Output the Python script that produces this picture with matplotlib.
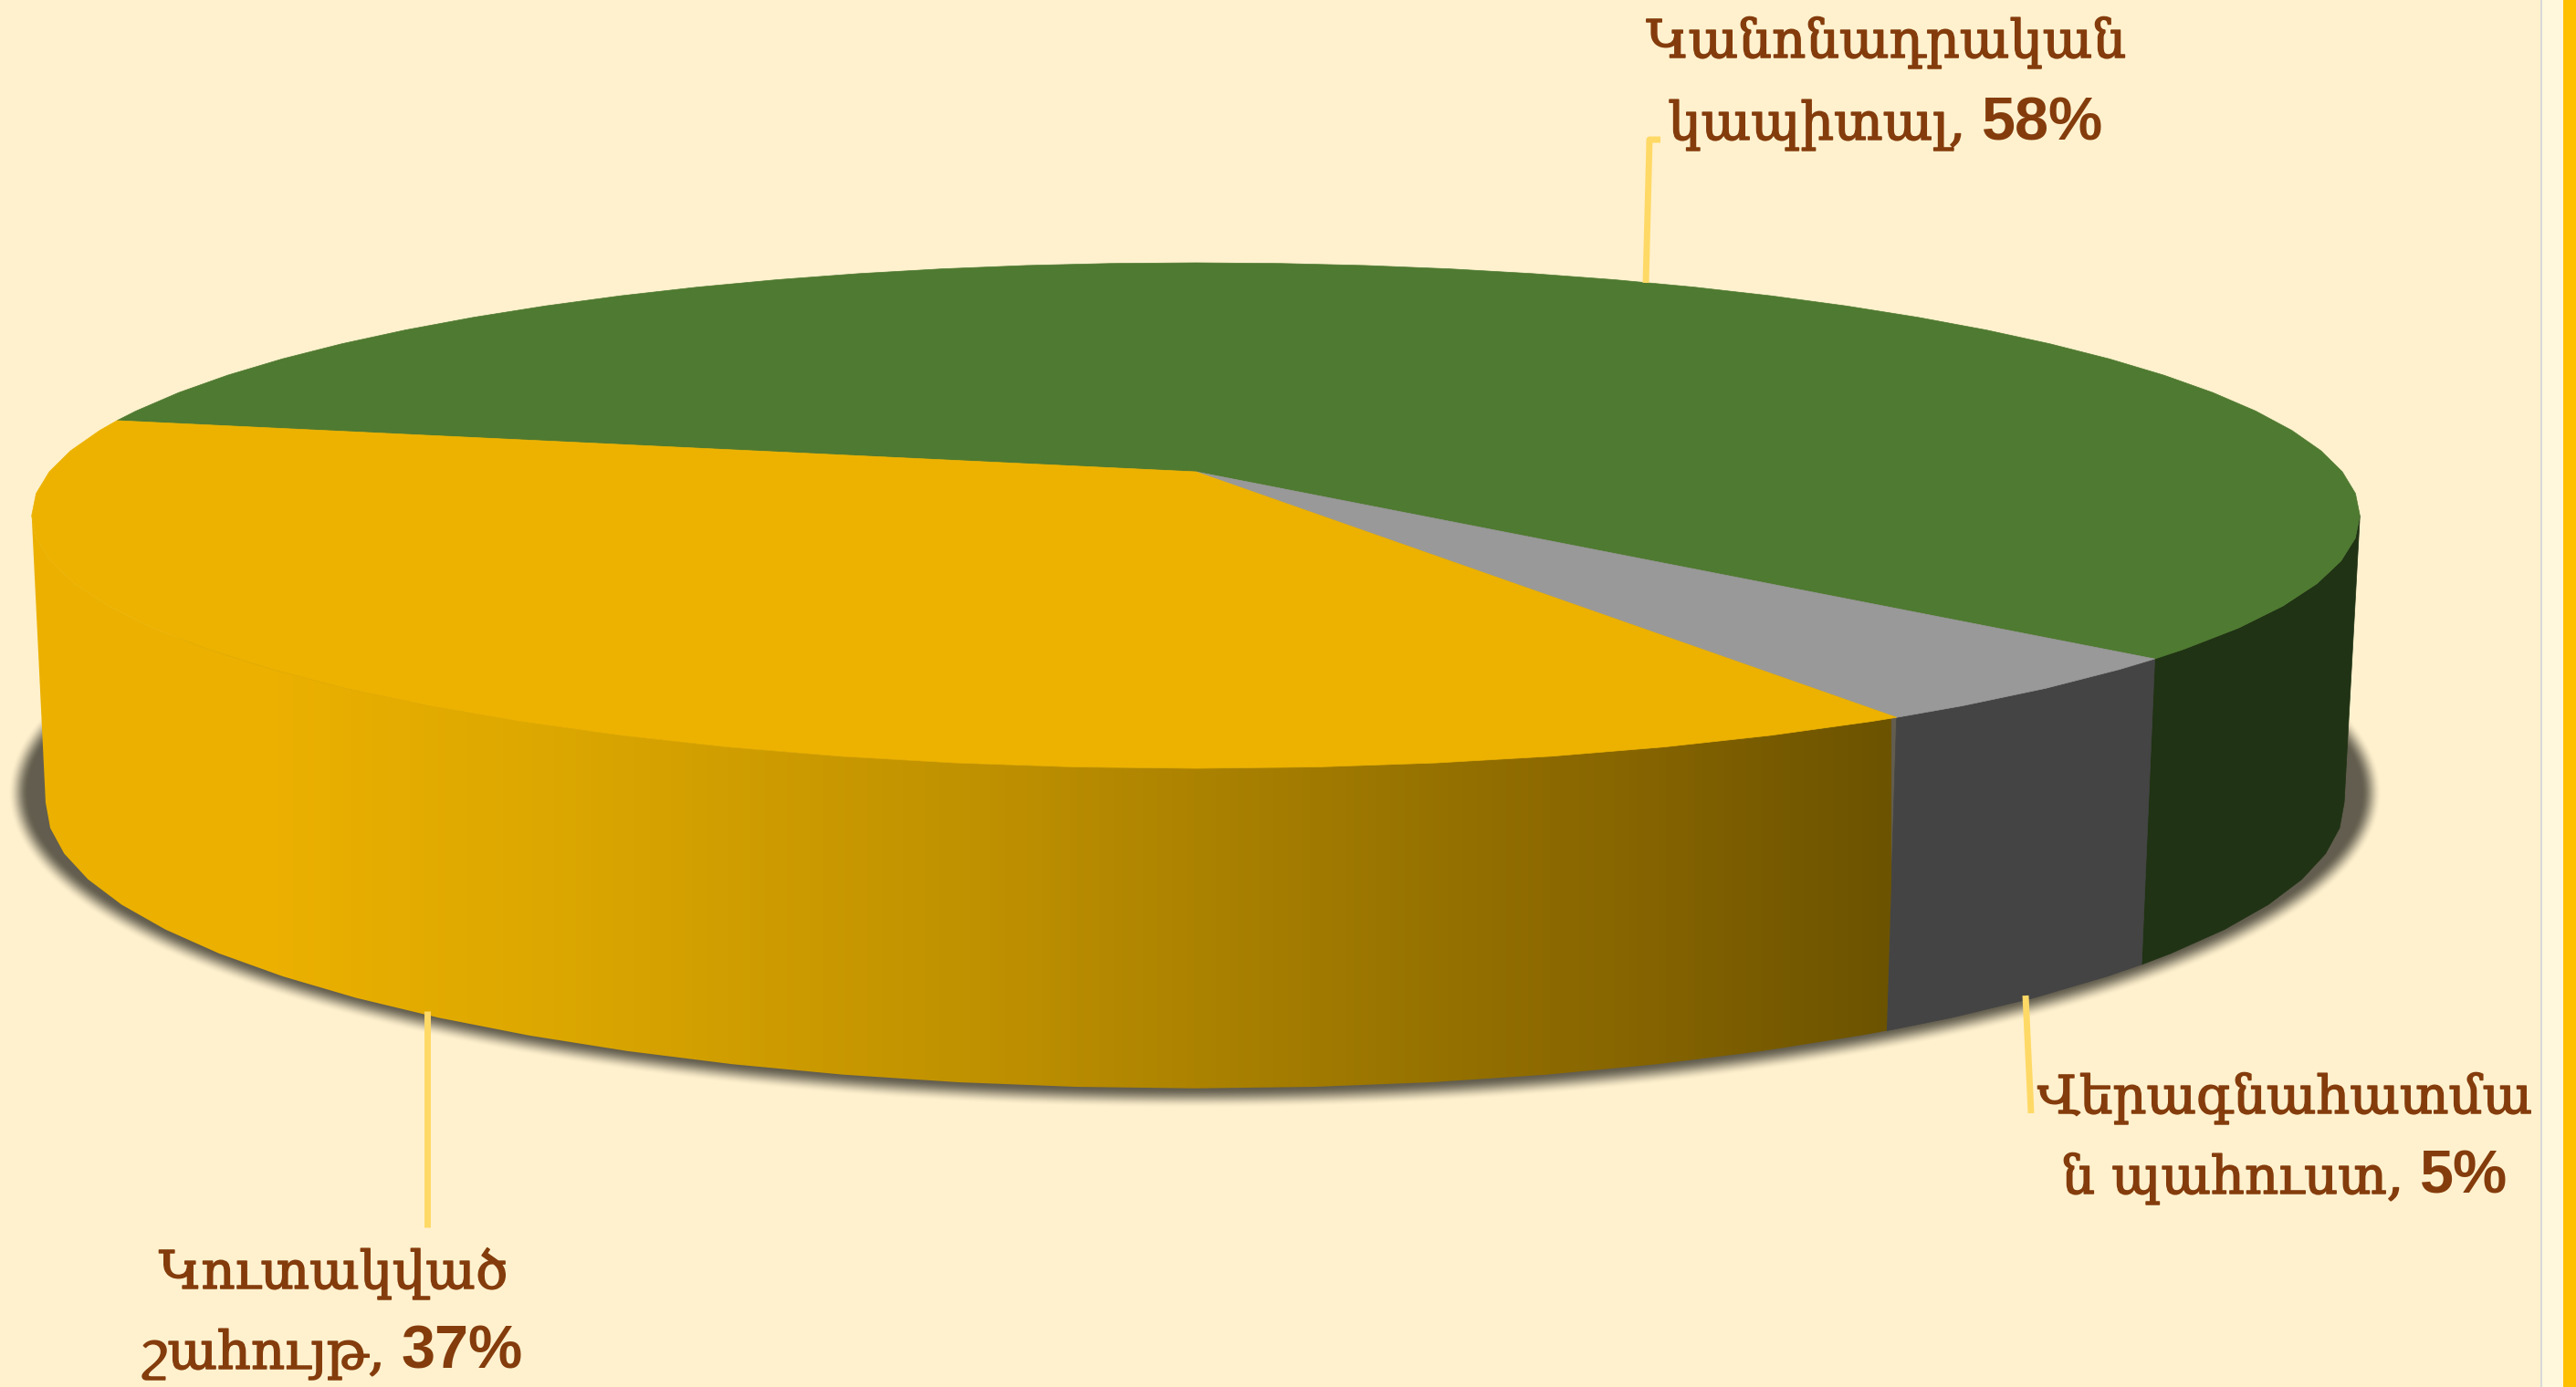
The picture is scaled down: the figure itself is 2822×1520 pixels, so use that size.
import numpy as np
import matplotlib
matplotlib.use('Agg')
import matplotlib.pyplot as plt
import matplotlib.patheffects as pe
from matplotlib.colors import LinearSegmentedColormap
from matplotlib.patches import Polygon

# data
labels = [['Կանոնադրական', 'կապիտալ, '], ['Վերագնահատմա', 'ն պահուստ, '], ['Կուտակված', 'շահույթ, ']]
shares = [58.3, 4.51, 37.19]
top_colors = ['#4f7a31', '#999999', '#edb200']
side_colors = ['#203314', '#444444', None]
start_angle = 192.5

# label centre x and the two baselines, in picture pixels
label_pos = [(2066, 63, 153), (2503, 1220, 1308), (365, 1412, 1500)]
leaders = [
    [(1803, 310), (1807, 153), (1819, 153)],
    [(2219, 1091), (2225, 1220)],
    [(468, 1108), (468, 1345)],
]

W, H = 2822, 1520
BG = '#fff1ce'
TEXT = '#843c0c'
FS = 41.5
FS_NUM = 48
HEAVY = [pe.withStroke(linewidth=1.1, foreground=TEXT)]
WALL_STOPS = [(0, '#ecb100'), (0.13, '#ebb000'), (0.27, '#dda800'), (0.53, '#bd8f00'),
              (0.73, '#9a7500'), (0.86, '#876500'), (1, '#6c5300')]


def rim(phi, cx, cy, a, b, k):
    # circle seen in perspective, phi runs clockwise on the screen
    t = np.radians(phi)
    d = 1 - k * np.sin(t)
    return np.column_stack([cx + a * np.cos(t) / d, cy + b * np.sin(t) / d])


def top_rim(phi):
    return rim(phi, 1310, 517, 1256, 268.7, 0.1733)


def bottom_rim(phi):
    return rim(phi, 1309, 825, 1240, 304, 0.1733)


def steps(a, b):
    # the reference outline is faceted every 5 degrees
    inner = np.arange(np.ceil(a / 5) * 5, b, 5.0)
    return np.concatenate([[a], inner[inner > a], [b]])


def add_label(ax, x, y1, y2, line1, line2, value):
    ax.text(x, y1, line1, family='DejaVu Serif', fontsize=FS, color=TEXT, ha='center', va='baseline', path_effects=HEAVY)
    # second line is regular text + bold number, centred together
    t1 = ax.text(x, y2, line2, family='DejaVu Serif', fontsize=FS, color=TEXT, ha='left', va='baseline', path_effects=HEAVY)
    t2 = ax.text(x, y2, value, family='Liberation Sans', weight='bold', fontsize=FS_NUM, color=TEXT, ha='left', va='baseline')
    r = fig.canvas.get_renderer()
    w1 = t1.get_window_extent(r).width
    w2 = t2.get_window_extent(r).width
    left = x - (w1 + w2) / 2
    t1.set_x(left)
    t2.set_x(left + w1)


fig = plt.figure(figsize=(W / 100, H / 100), dpi=100, facecolor=BG)
ax = fig.add_axes([0, 0, 1, 1])
ax.set_facecolor(BG)

# panel edge on the right
ax.axvspan(2785, 2808, color='#fff8dc', lw=0, zorder=1)
ax.axvspan(2783, 2785, color='#d9d9d9', lw=0, zorder=1)
ax.axvspan(2808, W, color='#ffc000', lw=0, zorder=1)

# soft shadow under the pie
yy, xx = np.mgrid[0:H, 0:2780]
sx, sy, srx, sry = 1308.5, 868, 1289, 335
f = np.sqrt(((xx - sx) / srx) ** 2 + ((yy - sy) / sry) ** 2)
grad = np.sqrt(((xx - sx) / srx ** 2) ** 2 + ((yy - sy) / sry ** 2) ** 2) / np.maximum(f, 1e-6)
dist = (f - 1) / np.maximum(grad, 1e-6)
alpha = np.clip((11 - dist) / 22, 0, 1)
alpha = alpha * alpha * (3 - 2 * alpha)
shadow = np.zeros((H, 2780, 4))
shadow[..., :3] = matplotlib.colors.to_rgb('#625d4e')
shadow[..., 3] = alpha
ax.imshow(shadow, extent=(0, 2780, H, 0), aspect='auto', interpolation='nearest', zorder=2)

# slice edges, clockwise from the first slice
edges = start_angle + np.cumsum([0] + shares) * 3.6

# outer wall: only the part between the two side tangents can be seen
for i in range(3):
    a, b = edges[i], edges[i + 1]
    lo, hi = None, None
    for shift in (0, -360):
        if max(a + shift, 10) < min(b + shift, 170):
            lo, hi = max(a + shift, 10), min(b + shift, 170)
    if lo is None:
        continue
    ph = steps(lo, hi)
    pts = np.vstack([top_rim(ph), bottom_rim(ph[::-1])])
    if side_colors[i] is not None:
        ax.add_patch(Polygon(pts, closed=True, fc=side_colors[i], ec=side_colors[i], lw=0.5, zorder=3))
    else:
        cmap = LinearSegmentedColormap.from_list('wall', WALL_STOPS)
        ramp = np.linspace(0, 1, 512).reshape(1, -1)
        im = ax.imshow(ramp, cmap=cmap, extent=(34, 2072, H, 0), aspect='auto', zorder=3)
        clip = Polygon(pts, closed=True, transform=ax.transData)
        im.set_clip_path(clip)

# top face
apex = np.array([[1310, 517]])
for i in range(3):
    pts = np.vstack([apex, top_rim(steps(edges[i], edges[i + 1]))])
    ax.add_patch(Polygon(pts, closed=True, fc=top_colors[i], ec=top_colors[i], lw=0.5, zorder=4))

# leader lines
for pts in leaders:
    xs, ys = zip(*pts)
    ax.plot(xs, ys, color='#ffd966', lw=5, solid_capstyle='butt', solid_joinstyle='round', zorder=5)

ax.set_xlim(0, W)
ax.set_ylim(H, 0)
ax.axis('off')

fig.canvas.draw()
for (line1, line2), share, (x, y1, y2) in zip(labels, shares, label_pos):
    add_label(ax, x, y1, y2, line1, line2, f'{share:.0f}%')

fig.savefig('out.png', dpi=100, facecolor=BG)
